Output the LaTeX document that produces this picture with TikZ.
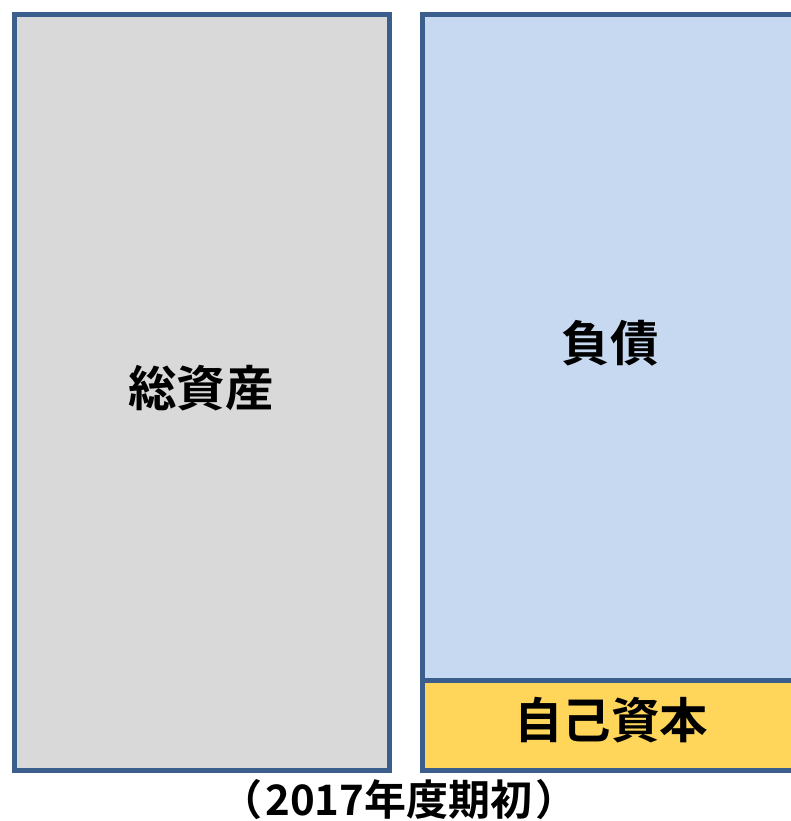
\documentclass[tikz,border=0pt]{standalone}
\usepackage{fontspec}
\newfontfamily\jp{Noto Sans CJK JP}[BoldFont={* Bold}]
\definecolor{edge}{HTML}{3B5E8C}
\definecolor{grayfill}{HTML}{D9D9D9}
\definecolor{bluefill}{HTML}{C6D9F1}
\definecolor{yellowfill}{HTML}{FFD65A}
\begin{document}
\begin{tikzpicture}[x=1pt,y=-1pt,
  box/.style={draw=edge,line width=5pt},
  bigtxt/.style={font=\jp\bfseries\fontsize{48.5}{52}\selectfont,inner sep=0pt},
  captxt/.style={font=\jp\bfseries\fontsize{42}{45}\selectfont,inner sep=0pt}]
\useasboundingbox (0,0) rectangle (791,821);
\clip (0,0) rectangle (791,821);
\fill[white] (0,0) rectangle (791,821);
\draw[box,fill=grayfill] (14.5,14.5) rectangle (389.5,770.5);
\draw[box,fill=bluefill] (422.5,14.5) rectangle (820,680.5);
\draw[box,fill=yellowfill] (422.5,680.5) rectangle (820,770.5);
\node[bigtxt] (assets) at (201,388) {総資産};
\node[bigtxt] (debt) at (610,343) {負債};
\node[bigtxt] (equity) at (611,720) {自己資本};
\node[captxt] (cap) at (399,800) {（\hspace{3pt}2017年度期初\hspace{3pt}）};
\end{tikzpicture}
\end{document}
